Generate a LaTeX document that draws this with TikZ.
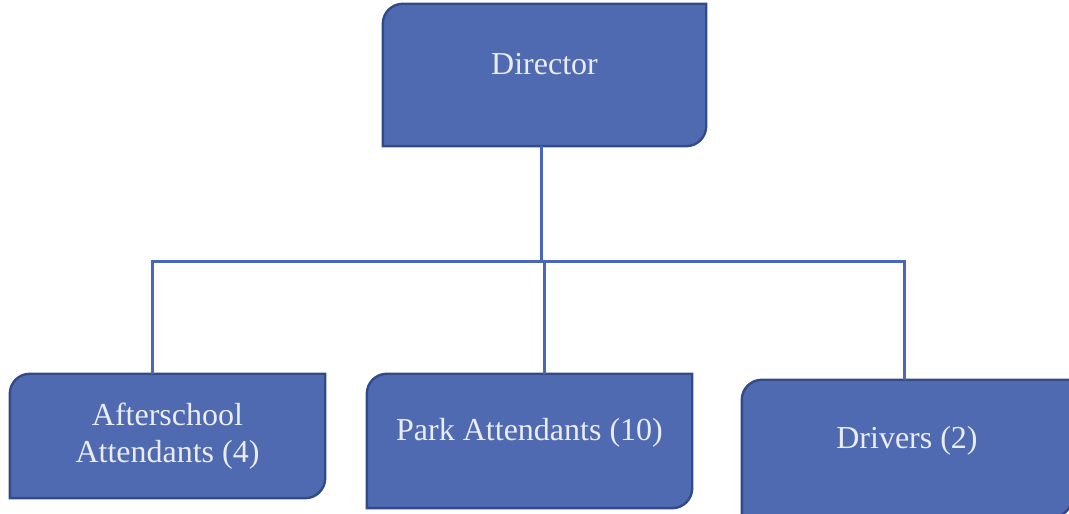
\documentclass[tikz,border=0pt]{standalone}
\usepackage{fontspec}
\setmainfont{Liberation Serif}
\usetikzlibrary{backgrounds}

\definecolor{boxfill}{RGB}{80,106,178}
\definecolor{boxedge}{RGB}{50,74,136}
\definecolor{boxtext}{RGB}{234,236,240}
\definecolor{wire}{RGB}{72,102,188}

\tikzset{
  unit/.style={rectangle, inner sep=0pt, text=boxtext, align=center,
    font=\fontsize{32}{37}\selectfont},
  oneline/.style={text height=11pt, text depth=11pt},
  tab/.style={fill=boxfill, draw=boxedge, line width=2.4pt},
  wireline/.style={draw=wire, line width=3pt, line join=miter},
}

% box with rounded top-left and bottom-right corners
\newcommand\tabshape[1]{%
  \path[tab] (#1.south west) -- ([yshift=-20pt]#1.north west)
    arc[start angle=180, end angle=90, radius=20pt] -- (#1.north east)
    -- ([yshift=20pt]#1.south east)
    arc[start angle=0, end angle=-90, radius=20pt] -- cycle;}

\begin{document}
\begin{tikzpicture}[x=1pt, y=1pt]
  \useasboundingbox (0,0) rectangle (1069,514);

  % units
  \node[unit, oneline, minimum width=323pt, minimum height=142pt] (dir) at (544.5,439) {Director};
  \node[unit, minimum width=315pt, minimum height=124pt] (after) at (167.5,78) {Afterschool\\Attendants (4)};
  \node[unit, oneline, minimum width=325pt, minimum height=134pt] (park) at (529.5,73) {Park Attendants (10)};
  \node[unit, oneline, minimum width=330pt, minimum height=137pt] (drv) at (907,65.5) {Drivers (2)};

  \begin{scope}[on background layer]
    \clip (0,0) rectangle (1069,514);
    \tabshape{dir}
    \tabshape{after}
    \tabshape{park}
    \tabshape{drv}
  \end{scope}

  % connectors
  \coordinate (bus) at (0,252);
  \coordinate (dirfoot) at ([xshift=-3.5pt]dir.south);
  \coordinate (aftertop) at ([xshift=-15.5pt]after.north);
  \coordinate (parktop) at ([xshift=14.5pt]park.north);
  \coordinate (drvtop) at ([xshift=-3pt]drv.north);

  \draw[wireline] (dirfoot) -- (dirfoot |- bus);
  \draw[wireline] (aftertop) -- (aftertop |- bus) -- (drvtop |- bus) -- (drvtop);
  \draw[wireline] (parktop |- bus) -- (parktop);
\end{tikzpicture}
\end{document}
